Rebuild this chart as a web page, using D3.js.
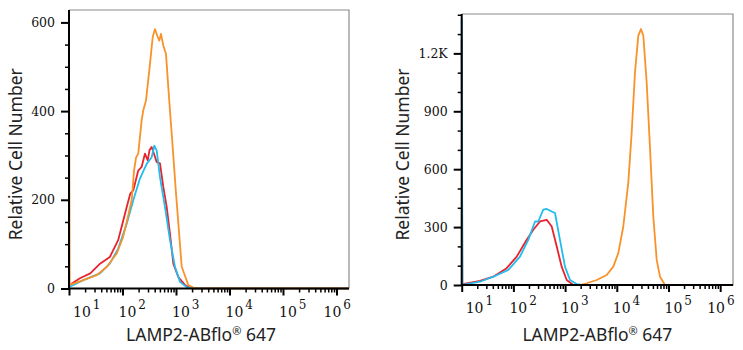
<!DOCTYPE html>
<html>
<head>
<meta charset="utf-8">
<script src="https://cdn.jsdelivr.net/npm/d3@7"></script>
<style>
  body { margin: 0; background: #fff; }
  svg { display: block; }
</style>
</head>
<body>
<svg id="chart" width="743" height="350"></svg>
<script>
// x values are fluorescence intensity, y values are cell counts
var xTickExps = [1, 2, 3, 4, 5, 6];

var leftYTicks = [0, 200, 400, 600];
var leftYLabels = ["0", "200", "400", "600"];
var leftYMinor = [50, 100, 150, 250, 300, 350, 450, 500, 550];

var rightYTicks = [0, 300, 600, 900, 1200];
var rightYLabels = ["0", "300", "600", "900", "1.2K"];
var rightYMinor = [100, 200, 400, 500, 700, 800, 1000, 1100, 1300, 1400];

var leftRed = [[10.3,8],[16,23],[25,34],[38,56],[58,71],[83,109],[120,184],[140,214],[159,221],[197,266],[228,274],[263,304],[296,289],[320,312],[351,319],[388,304],[436,285],[502,282],[579,229],[670,184],[772,124],[891,56],[1104,26],[1472,8],[1963,0],[1.7e6,0]];
var leftCyan = [[10.3,4],[18.5,19],[38,34],[58,56],[83,90],[120,146],[159,199],[212,248],[283,281],[351,296],[393,322],[436,311],[502,251],[622,184],[772,109],[957,49],[1189,15],[1585,3],[2080,0],[1.7e6,0]];
var leftOrange = [[10,606],[10.3,8],[18.5,19],[33,30],[51,49],[78,79],[102,115],[120,150],[149,200],[164,265],[179,295],[197,304],[228,379],[245,402],[275,424],[317,492],[367,567],[405,585],[447,570],[487,559],[524,574],[579,548],[650,529],[718,454],[796,379],[832,349],[1000,215],[1279,49],[1698,8],[2265,0],[1.7e6,0]];

var rightOrange = [[10,0],[1941,0],[2618,9],[4083,26],[6383,52],[8551,95],[10690,165],[13366,303],[16672,529],[19409,789],[22491,1101],[26062,1292],[29376,1326],[32584,1292],[37844,1049],[44055,702],[50816,355],[59156,130],[68549,43],[85507,0],[1.8e6,0]];
var rightRed = [[10,1270],[10.3,5],[12.5,9],[22.6,21],[40.8,43],[74,87],[116,147],[181,234],[243,286],[327,329],[441,338],[551,303],[689,199],[859,95],[1074,26],[1442,0],[60000,0]];
var rightCyan = [[10,1380],[10.3,3],[12.5,5],[22.6,17],[40.8,43],[80,78],[134,147],[194,234],[262,329],[303,329],[378,390],[441,394],[551,381],[638,373],[796,234],[995,95],[1245,26],[1675,5],[2094,0],[60000,0]];

var RED = "#e8232d", CYAN = "#21bdee", ORANGE = "#f8922a";

var svg = d3.select("#chart");

function drawPanel(p) {
    var x = d3.scaleLog().domain([10, p.xMax]).range([p.left, p.right]);
    var y = d3.scaleLinear().domain([0, p.yMax]).range([p.bottom, p.top]);
    var g = svg.append("g");

    // frame (top + right in grey)
    g.append("path")
        .attr("d", "M" + p.left + "," + p.top + "H" + p.right + "V" + p.bottom)
        .attr("fill", "none").attr("stroke", "#8a8a8a").attr("stroke-width", 1.2);

    // curves
    var line = d3.line().x(function(d) { return x(d[0]); }).y(function(d) { return y(d[1]); });
    p.series.forEach(function(s) {
        g.append("path").datum(s.data)
            .attr("d", line)
            .attr("fill", "none")
            .attr("stroke", s.color)
            .attr("stroke-width", 1.8)
            .attr("stroke-linejoin", "round");
    });

    // y axis
    var yMinorAxis = d3.axisLeft(y).tickValues(p.yMinor).tickSize(4).tickFormat("");
    g.append("g").attr("transform", "translate(" + p.left + ",0)").call(yMinorAxis)
        .call(function(a) { a.select(".domain").remove(); a.selectAll("line").attr("stroke-width", 1.5); });
    var yAxis = d3.axisLeft(y).tickValues(p.yTicks).tickSize(8).tickPadding(6)
        .tickFormat(function(d, i) { return p.yLabels[i]; });
    g.append("g").attr("transform", "translate(" + p.left + ",0)").call(yAxis)
        .call(function(a) {
            a.select(".domain").attr("stroke-width", 2).attr("d", "M0," + p.top + "V" + p.bottom);
            a.selectAll("line").attr("stroke-width", 2);
            a.selectAll("text").attr("font-family", "'DejaVu Serif', serif").attr("font-size", 12.5).attr("fill", "#111");
        });

    // x axis
    var minor = [];
    for (var e = 1; e <= 6; e++) {
        for (var m = 2; m <= 9; m++) {
            var v = m * Math.pow(10, e);
            if (v < p.xMax) minor.push(v);
        }
    }
    var xMinorAxis = d3.axisBottom(x).tickValues(minor).tickSize(4).tickFormat("");
    g.append("g").attr("transform", "translate(0," + p.bottom + ")").call(xMinorAxis)
        .call(function(a) { a.select(".domain").remove(); a.selectAll("line").attr("stroke-width", 1.5); });
    var majors = xTickExps.map(function(k) { return Math.pow(10, k); });
    var xAxis = d3.axisBottom(x).tickValues(majors).tickSize(7).tickFormat("");
    g.append("g").attr("transform", "translate(0," + p.bottom + ")").call(xAxis)
        .call(function(a) {
            a.select(".domain").attr("stroke-width", 2).attr("d", "M" + p.left + ",0H" + p.right);
            a.selectAll("line").attr("stroke-width", 2);
        });

    // x tick labels 10^n
    xTickExps.forEach(function(k, i) {
        var dx = i === 0 ? 4 : (i === xTickExps.length - 1 ? -13 : -4);
        var t = g.append("text")
            .attr("x", x(Math.pow(10, k)) + dx)
            .attr("y", p.bottom + 28)
            .attr("font-family", "'DejaVu Serif', serif")
            .attr("font-size", 14)
            .attr("fill", "#111");
        t.append("tspan").text("10");
        t.append("tspan").attr("dx", 2).attr("dy", -8).attr("font-size", 12).text(k);
    });

    // axis titles
    var xt = g.append("text")
        .attr("x", (p.left + p.right) / 2 - 2 + p.xTitleShift)
        .attr("y", 341)
        .attr("text-anchor", "middle")
        .attr("font-family", "'Noto Sans', sans-serif")
        .attr("font-size", 17.5)
        .attr("fill", "#222");
    xt.append("tspan").text("LAMP2-ABflo");
    xt.append("tspan").attr("font-size", 11).attr("dy", -6).text("\u00AE");
    xt.append("tspan").attr("dy", 6).text(" 647");

    g.append("text")
        .attr("transform", "translate(" + p.yTitleX + "," + ((p.top + p.bottom) / 2 + 5) + ") rotate(-90)")
        .attr("text-anchor", "middle")
        .attr("font-family", "'Noto Sans', sans-serif")
        .attr("font-size", 17.5)
        .attr("fill", "#222")
        .text("Relative Cell Number");
}

drawPanel({
    left: 69, right: 349, top: 10, bottom: 288.5,
    xMax: 1.714e6, yMax: 628,
    yTicks: leftYTicks, yLabels: leftYLabels, yMinor: leftYMinor,
    yTitleX: 22, xTitleShift: -6,
    series: [{data: leftRed, color: RED}, {data: leftCyan, color: CYAN}, {data: leftOrange, color: ORANGE}]
});

drawPanel({
    left: 461.7, right: 733, top: 14, bottom: 285,
    xMax: 1.77e6, yMax: 1404,
    yTicks: rightYTicks, yLabels: rightYLabels, yMinor: rightYMinor,
    yTitleX: 409, xTitleShift: 2,
    series: [{data: rightOrange, color: ORANGE}, {data: rightRed, color: RED}, {data: rightCyan, color: CYAN}]
});
</script>
</body>
</html>
